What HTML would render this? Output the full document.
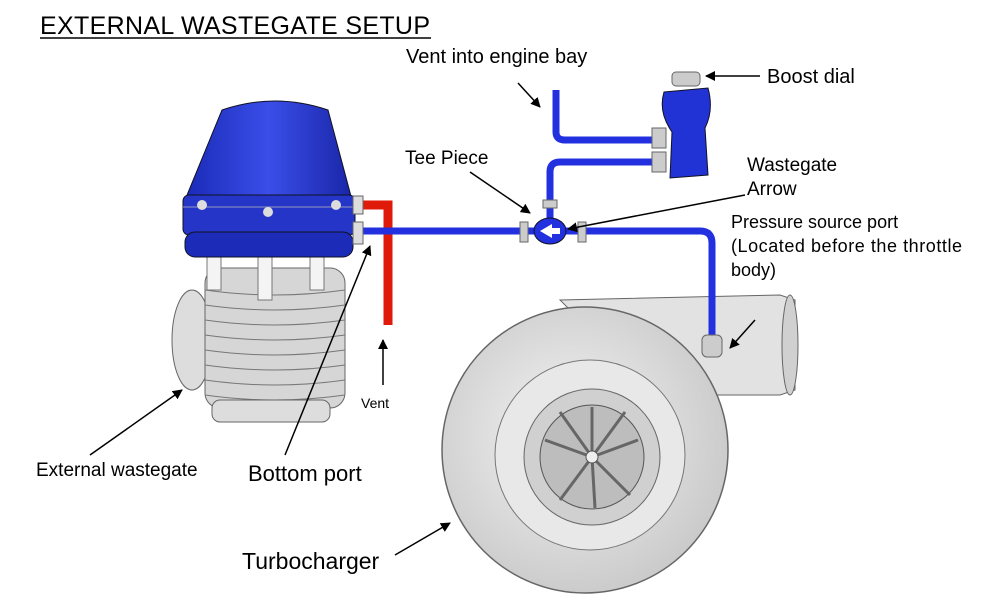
<!DOCTYPE html>
<html><head><style>
html,body{margin:0;padding:0;background:#fff;}
svg{display:block;font-family:"Liberation Sans",Arial,sans-serif;}
</style></head><body>
<svg width="987" height="604" viewBox="0 0 987 604" xmlns="http://www.w3.org/2000/svg">
<defs>
<marker id="ah" markerWidth="10" markerHeight="10" refX="9" refY="5" orient="auto" markerUnits="userSpaceOnUse"><path d="M0,0 L10,5 L0,10 z" fill="#000"/></marker>
<radialGradient id="tg" cx="0.45" cy="0.45" r="0.6"><stop offset="0" stop-color="#f4f4f4"/><stop offset="1" stop-color="#c8c8c8"/></radialGradient>
<linearGradient id="bg" x1="0" x2="1"><stop offset="0" stop-color="#1a2ab8"/><stop offset="0.5" stop-color="#3a4ee8"/><stop offset="1" stop-color="#1a26a8"/></linearGradient>
</defs>
<text x="40" y="34" font-size="25" fill="#000" textLength="390">EXTERNAL WASTEGATE SETUP</text>
<line x1="40" y1="38" x2="431" y2="38" stroke="#000" stroke-width="1.5"/>

<!-- turbo outlet -->
<path d="M560,300 L780,295 L795,300 L795,390 L780,395 L700,395 L640,380 Z" fill="#e2e2e2" stroke="#666"/>
<rect x="570" y="325" width="50" height="40" fill="#d8d8d8" stroke="#666"/>
<ellipse cx="790" cy="345" rx="8" ry="50" fill="#d0d0d0" stroke="#666"/>
<!-- turbo body -->
<circle cx="585" cy="450" r="143" fill="url(#tg)" stroke="#666" stroke-width="1.5"/>
<circle cx="590" cy="455" r="95" fill="#e8e8e8" stroke="#777"/>
<circle cx="592" cy="457" r="68" fill="#d0d0d0" stroke="#666"/>
<circle cx="592" cy="457" r="52" fill="#bdbdbd" stroke="#555"/>
<g stroke="#666" stroke-width="3">
<line x1="592" y1="457" x2="592" y2="407"/><line x1="592" y1="457" x2="638" y2="440"/><line x1="592" y1="457" x2="630" y2="495"/><line x1="592" y1="457" x2="560" y2="500"/><line x1="592" y1="457" x2="545" y2="440"/><line x1="592" y1="457" x2="560" y2="412"/><line x1="592" y1="457" x2="625" y2="412"/><line x1="592" y1="457" x2="595" y2="508"/>
</g>
<circle cx="592" cy="457" r="6" fill="#eee" stroke="#555"/>

<!-- wastegate bellows -->
<ellipse cx="192" cy="340" rx="20" ry="50" fill="#ddd" stroke="#666"/>
<rect x="205" y="268" width="140" height="140" rx="15" fill="#d6d6d6" stroke="#666"/>
<g stroke="#777" fill="none">
<path d="M205,290 Q275,300 345,290"/><path d="M205,305 Q275,315 345,305"/><path d="M205,320 Q275,330 345,320"/><path d="M205,335 Q275,345 345,335"/><path d="M205,350 Q275,360 345,350"/><path d="M205,365 Q275,375 345,365"/><path d="M205,380 Q275,390 345,380"/><path d="M205,395 Q275,405 345,395"/>
</g>
<rect x="212" y="400" width="118" height="22" rx="8" fill="#ddd" stroke="#666"/>
<rect x="207" y="255" width="14" height="35" fill="#f4f4f4" stroke="#777"/>
<rect x="258" y="255" width="14" height="45" fill="#f4f4f4" stroke="#777"/>
<rect x="310" y="255" width="14" height="35" fill="#f4f4f4" stroke="#777"/>
<!-- wastegate cap -->
<path d="M222,110 Q275,92 328,110 L352,200 L185,200 Z" fill="url(#bg)" stroke="#112"/>
<rect x="183" y="195" width="172" height="40" rx="6" fill="#2535c8" stroke="#112"/>
<rect x="185" y="232" width="168" height="25" rx="10" fill="#1c2cb8" stroke="#112"/>
<line x1="183" y1="207" x2="355" y2="207" stroke="#bbb" stroke-width="0.8"/>
<circle cx="202" cy="205" r="5" fill="#ddd"/><circle cx="268" cy="212" r="5" fill="#ddd"/><circle cx="336" cy="205" r="5" fill="#ddd"/>

<!-- red vent pipe -->
<path d="M360,205 L388,205 L388,325" fill="none" stroke="#e01a0a" stroke-width="9"/>
<!-- blue pipes -->
<g fill="none" stroke="#2230e0" stroke-width="7">
<path d="M360,231 L700,231 Q712,231 712,243 L712,340"/>
<path d="M550,225 L550,172 Q550,162 560,162 L660,162"/>
<path d="M556,90 L556,132 Q556,140 565,140 L660,140"/>
</g>
<rect x="353" y="196" width="10" height="18" fill="#ddd" stroke="#666"/>
<rect x="353" y="222" width="10" height="22" fill="#ddd" stroke="#666"/>
<ellipse cx="550" cy="231" rx="16" ry="13" fill="#2230e0" stroke="#112"/>
<path d="M540,231 L552,224 L552,228 L560,228 L560,234 L552,234 L552,238 Z" fill="#fff"/>
<rect x="520" y="222" width="8" height="20" fill="#ccc" stroke="#666"/>
<rect x="578" y="222" width="8" height="20" fill="#ccc" stroke="#666"/>
<rect x="543" y="200" width="14" height="8" fill="#ccc" stroke="#666"/>
<rect x="652" y="128" width="14" height="20" fill="#ccc" stroke="#666"/>
<rect x="652" y="152" width="14" height="20" fill="#ccc" stroke="#666"/>
<rect x="702" y="335" width="20" height="22" rx="5" fill="#ccc" stroke="#666"/>
<!-- boost dial -->
<path d="M664,92 L708,88 Q714,110 705,128 L708,175 L670,178 L672,132 Q658,112 664,92 Z" fill="#2233d6" stroke="#112"/>
<rect x="672" y="72" width="28" height="14" rx="4" fill="#ccc" stroke="#666"/>

<!-- arrows -->
<g stroke="#000" stroke-width="1.5" fill="none" marker-end="url(#ah)">
<line x1="518" y1="83" x2="540" y2="107"/>
<line x1="760" y1="76" x2="706" y2="76"/>
<line x1="470" y1="172" x2="530" y2="213"/>
<line x1="745" y1="195" x2="568" y2="229"/>
<line x1="755" y1="320" x2="730" y2="348"/>
<line x1="383" y1="385" x2="383" y2="340"/>
<line x1="90" y1="455" x2="182" y2="390"/>
<line x1="285" y1="455" x2="370" y2="246"/>
<line x1="395" y1="555" x2="450" y2="523"/>
</g>

<g fill="#000">
<text x="406" y="63" font-size="20">Vent into engine bay</text>
<text x="767" y="83" font-size="20">Boost dial</text>
<text x="405" y="164" font-size="19">Tee Piece</text>
<text x="747" y="171" font-size="19">Wastegate</text>
<text x="747" y="195" font-size="19">Arrow</text>
<text x="731" y="228" font-size="18">Pressure source port</text>
<text x="731" y="252" font-size="18" textLength="231">(Located before the throttle</text>
<text x="731" y="276" font-size="18">body)</text>
<text x="36" y="476" font-size="19">External wastegate</text>
<text x="248" y="481" font-size="22">Bottom port</text>
<text x="242" y="569" font-size="23">Turbocharger</text>
<text x="361" y="408" font-size="14">Vent</text>
</g>
</svg>
</body></html>
